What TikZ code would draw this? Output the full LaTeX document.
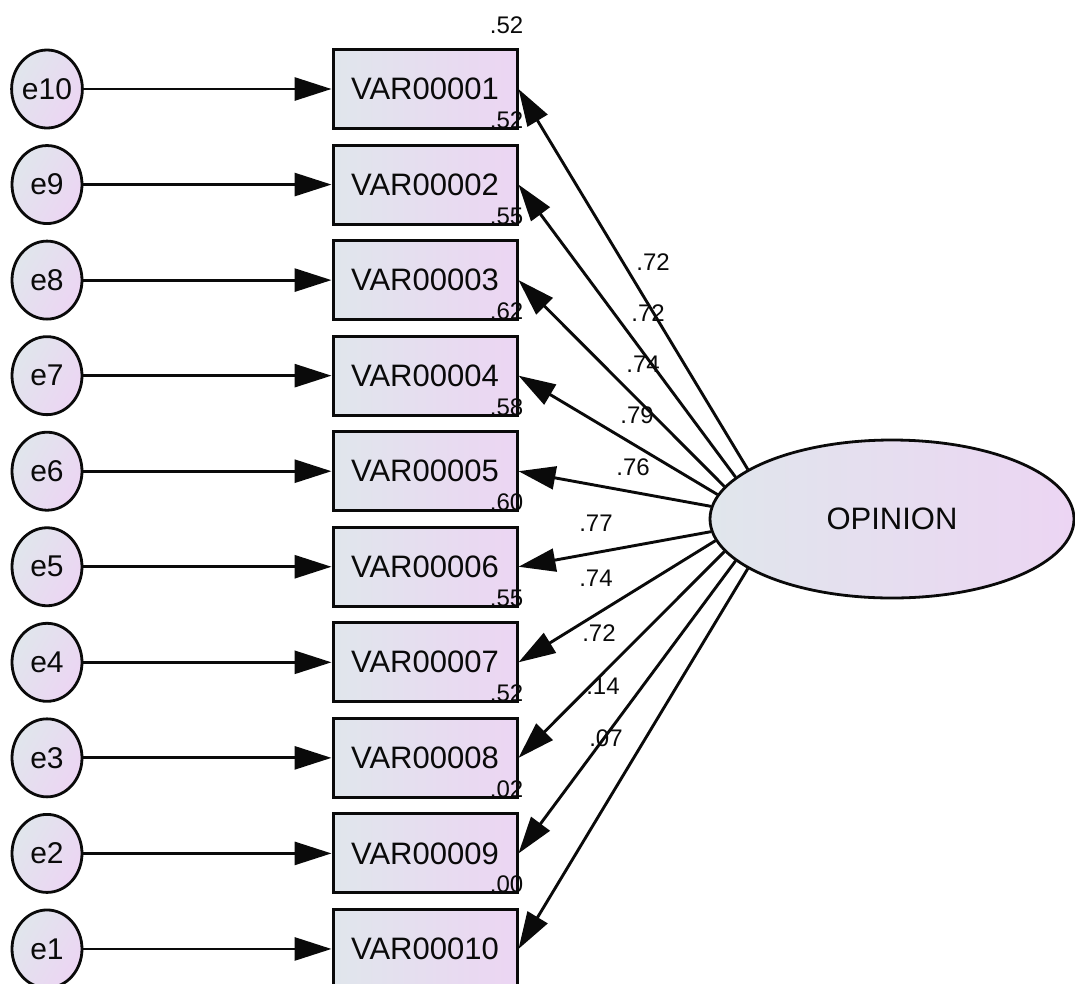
\documentclass[tikz,border=0pt]{standalone}
\usepackage{fontspec}
\setmainfont{Liberation Sans}
\usetikzlibrary{arrows.meta,shapes.geometric}
\definecolor{gL}{RGB}{224,230,236}
\definecolor{gR}{RGB}{236,213,243}
\definecolor{ink}{RGB}{10,10,10}
\begin{document}
\begin{tikzpicture}[x=1pt,y=-1pt,
  obsbox/.style={draw=ink, line width=3pt, minimum width=184pt, minimum height=79pt, inner sep=0pt,
    left color=gL, right color=gR, text=ink, font=\fontsize{31}{31}\selectfont},
  errnode/.style={ellipse, draw=ink, line width=2.8pt, minimum width=70pt, minimum height=78pt, inner sep=0pt,
    left color=gL, right color=gR, shading angle=60, text=ink, font=\fontsize{30}{30}\selectfont},
  latnode/.style={ellipse, draw=ink, line width=2.8pt, minimum width=364pt, minimum height=158pt, inner sep=0pt,
    left color=gL, right color=gR, text=ink, font=\fontsize{31}{31}\selectfont},
  pathline/.style={draw=ink, line width=2.9pt, -{Triangle[length=37pt,width=23pt]}},
  numlbl/.style={inner sep=0pt, text=ink, font=\fontsize{24}{24}\selectfont}
]
\useasboundingbox[fill=white] (0,0) rectangle (1075,983);

\node[latnode] (op) at (892,519) {OPINION};

\foreach \e/\name [count=\k] in {10/VAR00001, 9/VAR00002, 8/VAR00003, 7/VAR00004,
    6/VAR00005, 5/VAR00006, 4/VAR00007, 3/VAR00008, 2/VAR00009, 1/VAR00010} {
  \pgfmathsetmacro\yy{89+(\k-1)*95.55}
  \node[errnode] (e\e) at (47,\yy) {e\e};
  \node[obsbox] (v\k) at (425,\yy) {\name};
  \draw[pathline] (e\e) -- (v\k);
}

\foreach \k/\r in {1/.52, 2/.52, 3/.55, 4/.62, 5/.58, 6/.60, 7/.55, 8/.52, 9/.02, 10/.00} {
  \node[numlbl, anchor=base east] (r\k) at ([xshift=5pt, yshift=15pt]v\k.north east) {\r};
}

\foreach \k/\a in {1/161, 2/165, 3/169, 4/172.5, 5/176, 6/184, 7/187.5, 8/191, 9/195, 10/199} {
  \draw[pathline] (op.\a) -- (v\k.east);
}

\node[numlbl] (l1) at (653,262) {.72};
\node[numlbl] (l2) at (648,313) {.72};
\node[numlbl] (l3) at (643,364) {.74};
\node[numlbl] (l4) at (637,415) {.79};
\node[numlbl] (l5) at (633,467) {.76};
\node[numlbl] (l6) at (596,523) {.77};
\node[numlbl] (l7) at (596,578) {.74};
\node[numlbl] (l8) at (599,633) {.72};
\node[numlbl] (l9) at (603,686) {.14};
\node[numlbl] (l10) at (606,738) {.07};
\end{tikzpicture}
\end{document}
